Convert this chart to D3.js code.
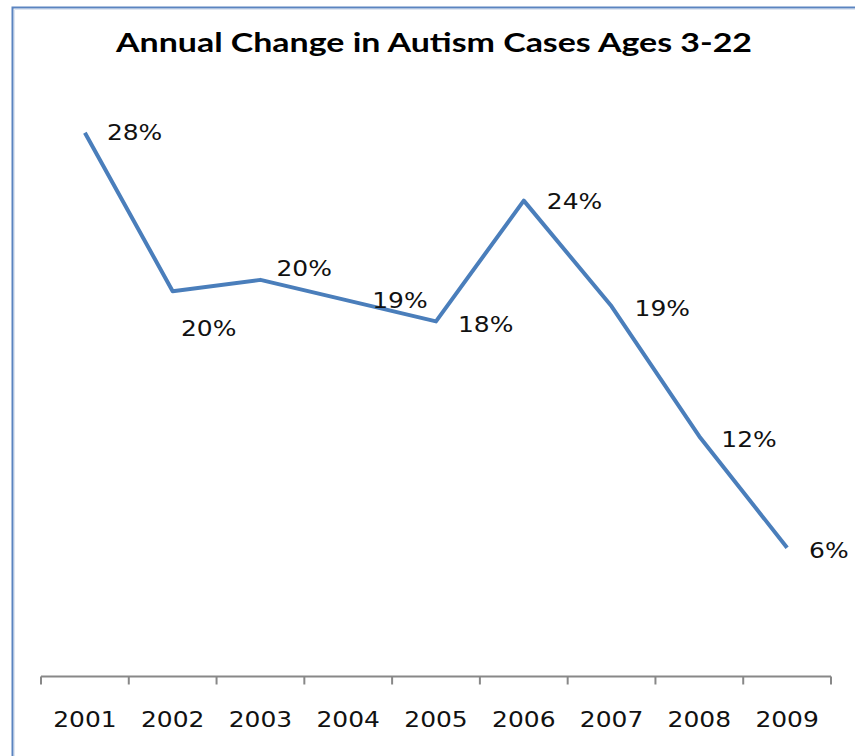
<!DOCTYPE html>
<html>
<head>
<meta charset="utf-8">
<script src="https://cdn.jsdelivr.net/npm/d3@7"></script>
<style>
  html, body { margin: 0; padding: 0; background: #fff; }
  svg { display: block; }
</style>
</head>
<body>
<svg id="chart" width="855" height="756"></svg>
<script>
// Annual change in autism cases, ages 3-22
const years = ["2001", "2002", "2003", "2004", "2005", "2006", "2007", "2008", "2009"];
const changes = [0.280, 0.196, 0.202, 0.191, 0.180, 0.244, 0.188, 0.119, 0.060];

// label placement relative to each point (dx, dy, anchor)
const labelDx = [22, 36, 16, 24, 22, 23, 23, 22, 22];
const labelDy = [0, 37, -12, 0, 3, 1, 2, 3, 3];
const labelAnchor = ["start", "middle", "start", "start", "start", "start", "start", "start", "start"];

const svg = d3.select("#chart");
const W = 855, H = 756;

// frame edges (top and left)
svg.append("path")
  .attr("d", `M12.5,${H} V7.5 H${W}`)
  .attr("fill", "none")
  .attr("stroke", "#5b84c0")
  .attr("stroke-width", 2);
svg.append("path")
  .attr("d", `M14.5,${H} V9.5 H${W}`)
  .attr("fill", "none")
  .attr("stroke", "#dfe6f1")
  .attr("stroke-width", 1);

// title
svg.append("text")
  .attr("x", 434)
  .attr("y", 52)
  .attr("text-anchor", "middle")
  .attr("font-family", "Lato, 'Open Sans', sans-serif")
  .attr("font-weight", 700)
  .attr("font-size", 26)
  .attr("textLength", 636)
  .attr("lengthAdjust", "spacingAndGlyphs")
  .attr("fill", "#000")
  .text("Annual Change in Autism Cases Ages 3-22");

const plotLeft = 41, plotRight = 831, plotBottom = 676, plotTop = 95;

const x = d3.scaleBand().domain(years).range([plotLeft, plotRight]).padding(0);
const y = d3.scaleLinear().domain([-0.008, 0.30]).range([plotBottom, plotTop]);

// category axis
const xAxis = d3.axisBottom(x).tickSize(0).tickFormat("");
const axisG = svg.append("g")
  .attr("transform", `translate(0,${plotBottom + 0.5})`)
  .call(xAxis);
axisG.select(".domain").attr("stroke", "#888").attr("stroke-width", 2)
  .attr("d", `M${plotLeft},0H${plotRight}`);

// tick marks at category boundaries
const boundaries = years.map(d => x(d)).concat([x(years[years.length - 1]) + x.bandwidth()]);
axisG.selectAll("line.bound")
  .data(boundaries)
  .join("line")
  .attr("class", "bound")
  .attr("x1", d => d).attr("x2", d => d)
  .attr("y1", 0).attr("y2", 8)
  .attr("stroke", "#888")
  .attr("stroke-width", 2);

// year labels
svg.append("g")
  .selectAll("text")
  .data(years)
  .join("text")
  .attr("transform", d => `translate(${x(d) + x.bandwidth() / 2},${plotBottom + 51}) scale(1.16,1)`)
  .attr("text-anchor", "middle")
  .attr("font-family", "'DejaVu Sans', Verdana, sans-serif")
  .attr("font-size", 21.5)
  .attr("fill", "#111")
  .text(d => d);

// the line
const line = d3.line()
  .x((d, i) => x(years[i]) + x.bandwidth() / 2)
  .y(d => y(d));

svg.append("path")
  .datum(changes)
  .attr("d", line)
  .attr("fill", "none")
  .attr("stroke", "#4a7ebb")
  .attr("stroke-width", 4)
  .attr("stroke-linejoin", "round");

// data labels
const fmt = d3.format(".0%");
svg.append("g")
  .selectAll("text")
  .data(changes)
  .join("text")
  .attr("transform", (d, i) => `translate(${x(years[i]) + x.bandwidth() / 2 + labelDx[i]},${y(d) + labelDy[i]}) scale(1.16,1)`)
  .attr("text-anchor", (d, i) => labelAnchor[i])
  .attr("dy", "0.36em")
  .attr("font-family", "'DejaVu Sans', Verdana, sans-serif")
  .attr("font-size", 21.5)
  .attr("fill", "#111")
  .text(d => fmt(d));
</script>
</body>
</html>
